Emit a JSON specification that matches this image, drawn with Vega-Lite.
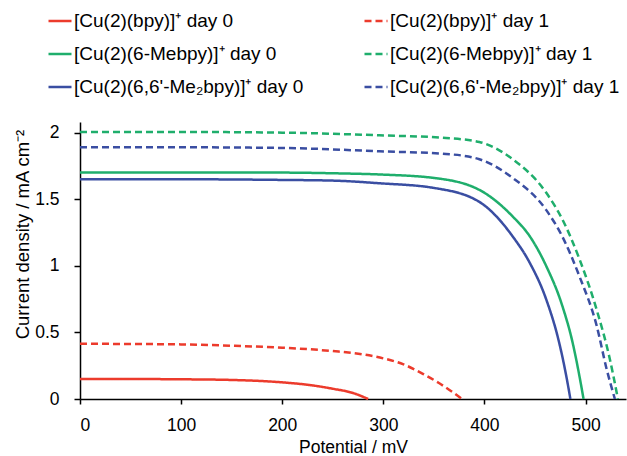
{
  "$schema": "https://vega.github.io/schema/vega-lite/v6.json",
  "width": 546,
  "height": 277,
  "autosize": {"type": "none"},
  "padding": {"left": 80, "top": 122, "right": 1, "bottom": 57},
  "background": "white",
  "config": {
    "view": {"stroke": null},
    "font": "Liberation Sans"
  },
  "data": {
    "values": [
      {"s": "[Cu(2)(bpy)]⁺  day 0", "x": 0, "y": 0.15},
      {"s": "[Cu(2)(bpy)]⁺  day 0", "x": 50, "y": 0.15},
      {"s": "[Cu(2)(bpy)]⁺  day 0", "x": 100, "y": 0.148},
      {"s": "[Cu(2)(bpy)]⁺  day 0", "x": 150, "y": 0.143},
      {"s": "[Cu(2)(bpy)]⁺  day 0", "x": 200, "y": 0.125},
      {"s": "[Cu(2)(bpy)]⁺  day 0", "x": 225, "y": 0.107},
      {"s": "[Cu(2)(bpy)]⁺  day 0", "x": 250, "y": 0.077},
      {"s": "[Cu(2)(bpy)]⁺  day 0", "x": 270, "y": 0.045},
      {"s": "[Cu(2)(bpy)]⁺  day 0", "x": 285, "y": 0.0},
      {"s": "[Cu(2)(bpy)]⁺  day 1", "x": 0, "y": 0.415},
      {"s": "[Cu(2)(bpy)]⁺  day 1", "x": 50, "y": 0.413},
      {"s": "[Cu(2)(bpy)]⁺  day 1", "x": 100, "y": 0.41},
      {"s": "[Cu(2)(bpy)]⁺  day 1", "x": 150, "y": 0.4},
      {"s": "[Cu(2)(bpy)]⁺  day 1", "x": 200, "y": 0.385},
      {"s": "[Cu(2)(bpy)]⁺  day 1", "x": 250, "y": 0.36},
      {"s": "[Cu(2)(bpy)]⁺  day 1", "x": 280, "y": 0.335},
      {"s": "[Cu(2)(bpy)]⁺  day 1", "x": 300, "y": 0.305},
      {"s": "[Cu(2)(bpy)]⁺  day 1", "x": 320, "y": 0.26},
      {"s": "[Cu(2)(bpy)]⁺  day 1", "x": 340, "y": 0.185},
      {"s": "[Cu(2)(bpy)]⁺  day 1", "x": 355, "y": 0.12},
      {"s": "[Cu(2)(bpy)]⁺  day 1", "x": 365, "y": 0.07},
      {"s": "[Cu(2)(bpy)]⁺  day 1", "x": 378, "y": 0.0},
      {"s": "[Cu(2)(6-Mebpy)]⁺  day 0", "x": 0, "y": 1.7},
      {"s": "[Cu(2)(6-Mebpy)]⁺  day 0", "x": 100, "y": 1.7},
      {"s": "[Cu(2)(6-Mebpy)]⁺  day 0", "x": 200, "y": 1.7},
      {"s": "[Cu(2)(6-Mebpy)]⁺  day 0", "x": 250, "y": 1.695},
      {"s": "[Cu(2)(6-Mebpy)]⁺  day 0", "x": 296, "y": 1.686},
      {"s": "[Cu(2)(6-Mebpy)]⁺  day 0", "x": 350, "y": 1.66},
      {"s": "[Cu(2)(6-Mebpy)]⁺  day 0", "x": 395, "y": 1.57},
      {"s": "[Cu(2)(6-Mebpy)]⁺  day 0", "x": 428, "y": 1.37},
      {"s": "[Cu(2)(6-Mebpy)]⁺  day 0", "x": 445, "y": 1.22},
      {"s": "[Cu(2)(6-Mebpy)]⁺  day 0", "x": 461, "y": 1.0},
      {"s": "[Cu(2)(6-Mebpy)]⁺  day 0", "x": 477, "y": 0.7},
      {"s": "[Cu(2)(6-Mebpy)]⁺  day 0", "x": 487, "y": 0.43},
      {"s": "[Cu(2)(6-Mebpy)]⁺  day 0", "x": 494, "y": 0.17},
      {"s": "[Cu(2)(6-Mebpy)]⁺  day 0", "x": 498, "y": 0.0},
      {"s": "[Cu(2)(6-Mebpy)]⁺  day 1", "x": 0, "y": 2.005},
      {"s": "[Cu(2)(6-Mebpy)]⁺  day 1", "x": 100, "y": 2.005},
      {"s": "[Cu(2)(6-Mebpy)]⁺  day 1", "x": 200, "y": 2.0},
      {"s": "[Cu(2)(6-Mebpy)]⁺  day 1", "x": 296, "y": 1.98},
      {"s": "[Cu(2)(6-Mebpy)]⁺  day 1", "x": 362, "y": 1.96},
      {"s": "[Cu(2)(6-Mebpy)]⁺  day 1", "x": 395, "y": 1.93},
      {"s": "[Cu(2)(6-Mebpy)]⁺  day 1", "x": 428, "y": 1.8},
      {"s": "[Cu(2)(6-Mebpy)]⁺  day 1", "x": 461, "y": 1.55},
      {"s": "[Cu(2)(6-Mebpy)]⁺  day 1", "x": 477, "y": 1.35},
      {"s": "[Cu(2)(6-Mebpy)]⁺  day 1", "x": 494, "y": 1.05},
      {"s": "[Cu(2)(6-Mebpy)]⁺  day 1", "x": 511, "y": 0.67},
      {"s": "[Cu(2)(6-Mebpy)]⁺  day 1", "x": 524, "y": 0.3},
      {"s": "[Cu(2)(6-Mebpy)]⁺  day 1", "x": 532, "y": 0.0},
      {"s": "[Cu(2)(6,6'-Me₂bpy)]⁺  day 0", "x": 0, "y": 1.65},
      {"s": "[Cu(2)(6,6'-Me₂bpy)]⁺  day 0", "x": 100, "y": 1.65},
      {"s": "[Cu(2)(6,6'-Me₂bpy)]⁺  day 0", "x": 200, "y": 1.645},
      {"s": "[Cu(2)(6,6'-Me₂bpy)]⁺  day 0", "x": 250, "y": 1.64},
      {"s": "[Cu(2)(6,6'-Me₂bpy)]⁺  day 0", "x": 296, "y": 1.62},
      {"s": "[Cu(2)(6,6'-Me₂bpy)]⁺  day 0", "x": 350, "y": 1.585},
      {"s": "[Cu(2)(6,6'-Me₂bpy)]⁺  day 0", "x": 395, "y": 1.48},
      {"s": "[Cu(2)(6,6'-Me₂bpy)]⁺  day 0", "x": 428, "y": 1.22},
      {"s": "[Cu(2)(6,6'-Me₂bpy)]⁺  day 0", "x": 445, "y": 1.02},
      {"s": "[Cu(2)(6,6'-Me₂bpy)]⁺  day 0", "x": 461, "y": 0.75},
      {"s": "[Cu(2)(6,6'-Me₂bpy)]⁺  day 0", "x": 474, "y": 0.42},
      {"s": "[Cu(2)(6,6'-Me₂bpy)]⁺  day 0", "x": 481, "y": 0.17},
      {"s": "[Cu(2)(6,6'-Me₂bpy)]⁺  day 0", "x": 485, "y": 0.0},
      {"s": "[Cu(2)(6,6'-Me₂bpy)]⁺  day 1", "x": 0, "y": 1.89},
      {"s": "[Cu(2)(6,6'-Me₂bpy)]⁺  day 1", "x": 100, "y": 1.89},
      {"s": "[Cu(2)(6,6'-Me₂bpy)]⁺  day 1", "x": 200, "y": 1.885},
      {"s": "[Cu(2)(6,6'-Me₂bpy)]⁺  day 1", "x": 296, "y": 1.86},
      {"s": "[Cu(2)(6,6'-Me₂bpy)]⁺  day 1", "x": 362, "y": 1.84},
      {"s": "[Cu(2)(6,6'-Me₂bpy)]⁺  day 1", "x": 395, "y": 1.8},
      {"s": "[Cu(2)(6,6'-Me₂bpy)]⁺  day 1", "x": 428, "y": 1.66},
      {"s": "[Cu(2)(6,6'-Me₂bpy)]⁺  day 1", "x": 461, "y": 1.42},
      {"s": "[Cu(2)(6,6'-Me₂bpy)]⁺  day 1", "x": 477, "y": 1.22},
      {"s": "[Cu(2)(6,6'-Me₂bpy)]⁺  day 1", "x": 494, "y": 0.92},
      {"s": "[Cu(2)(6,6'-Me₂bpy)]⁺  day 1", "x": 511, "y": 0.55},
      {"s": "[Cu(2)(6,6'-Me₂bpy)]⁺  day 1", "x": 521, "y": 0.22},
      {"s": "[Cu(2)(6,6'-Me₂bpy)]⁺  day 1", "x": 529, "y": 0.0}
    ]
  },
  "mark": {"type": "line", "interpolate": "monotone", "strokeWidth": 2.5},
  "encoding": {
    "x": {
      "field": "x", "type": "quantitative",
      "scale": {"domain": [0, 540], "nice": false, "zero": false},
      "axis": {
        "title": "Potential / mV", "values": [0, 100, 200, 300, 400, 500],
        "grid": false, "domainColor": "black", "domainWidth": 1.5,
        "tickColor": "black", "tickWidth": 1.5, "tickSize": 5,
        "labelFontSize": 17.5, "labelColor": "black", "labelPadding": 12, "labelFont": "Liberation Sans",
        "titleFontSize": 17.5, "titleFontWeight": "normal", "titleColor": "black", "titlePadding": 5, "titleFont": "Liberation Sans"
      }
    },
    "y": {
      "field": "y", "type": "quantitative",
      "scale": {"domain": [0, 2.08], "nice": false},
      "axis": {
        "title": "Current density / mA cm⁻²", "values": [0, 0.5, 1, 1.5, 2],
        "labelExpr": "'' + datum.value",
        "grid": false, "domainColor": "black", "domainWidth": 1.5,
        "tickColor": "black", "tickWidth": 1.5, "tickSize": 6,
        "labelFontSize": 17.5, "labelColor": "black", "labelPadding": 15, "labelFont": "Liberation Sans",
        "titleFontSize": 18.5, "titleFontWeight": "normal", "titleColor": "black", "titlePadding": 2, "titleFont": "Liberation Sans",
        "titleY": 112
      }
    },
    "color": {
      "field": "s", "type": "nominal",
      "scale": {
        "domain": ["[Cu(2)(bpy)]⁺  day 0", "[Cu(2)(6-Mebpy)]⁺  day 0", "[Cu(2)(6,6'-Me₂bpy)]⁺  day 0", "[Cu(2)(bpy)]⁺  day 1", "[Cu(2)(6-Mebpy)]⁺  day 1", "[Cu(2)(6,6'-Me₂bpy)]⁺  day 1"],
        "range": ["#ec3b2c", "#1fae6c", "#3a4ea2", "#ec3b2c", "#1fae6c", "#3a4ea2"]
      },
      "legend": {
        "title": null, "orient": "none", "legendX": -33, "legendY": -114,
        "columns": 2, "columnPadding": 50, "rowPadding": 10,
        "symbolType": "stroke", "symbolSize": 529, "symbolStrokeWidth": 2.5,
        "labelFontSize": 19, "labelColor": "black", "labelFont": "Liberation Sans", "labelOffset": 1, "labelLimit": 400
      }
    },
    "strokeDash": {
      "field": "s", "type": "nominal",
      "scale": {
        "domain": ["[Cu(2)(bpy)]⁺  day 0", "[Cu(2)(6-Mebpy)]⁺  day 0", "[Cu(2)(6,6'-Me₂bpy)]⁺  day 0", "[Cu(2)(bpy)]⁺  day 1", "[Cu(2)(6-Mebpy)]⁺  day 1", "[Cu(2)(6,6'-Me₂bpy)]⁺  day 1"],
        "range": [[1, 0], [1, 0], [1, 0], [7, 4], [7, 4], [7, 4]]
      },
      "legend": {
        "title": null, "orient": "none", "legendX": -33, "legendY": -114,
        "columns": 2, "columnPadding": 50, "rowPadding": 10,
        "symbolType": "stroke", "symbolSize": 529, "symbolStrokeWidth": 2.5,
        "labelFontSize": 19, "labelColor": "black", "labelFont": "Liberation Sans", "labelOffset": 1, "labelLimit": 400
      }
    }
  }
}
